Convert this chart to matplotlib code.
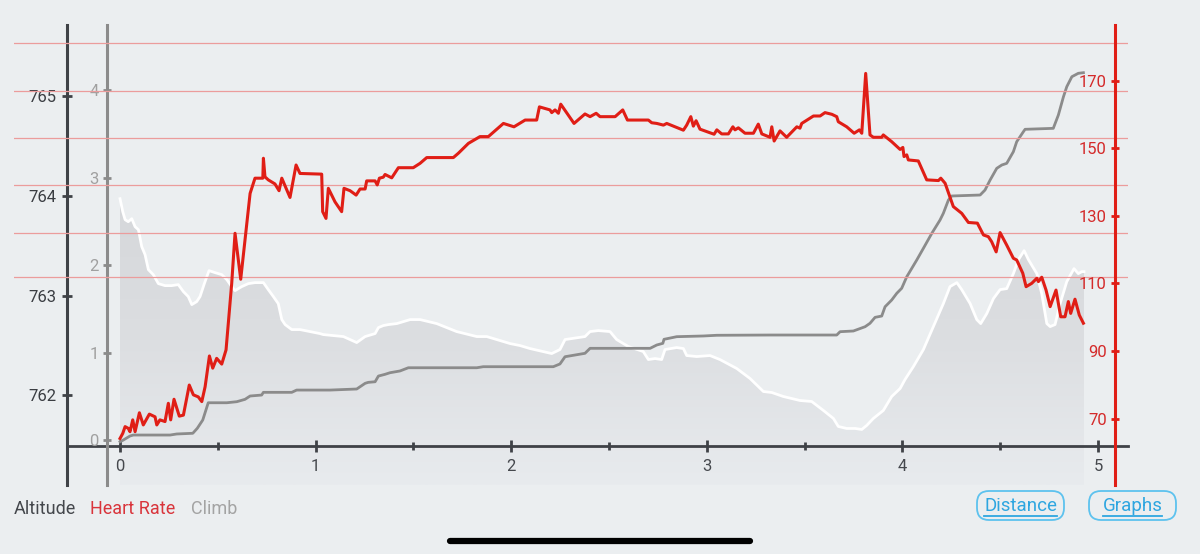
import matplotlib.pyplot as plt  # for plots
import numpy as np  # gradient for the altitude fill
from matplotlib.colors import LinearSegmentedColormap
from matplotlib.lines import Line2D
from matplotlib.patches import FancyBboxPatch
from matplotlib.transforms import IdentityTransform

plt.rcParams['font.family'] = ['Roboto', 'DejaVu Sans']

# altitude profile (distance km, metres)
alt_dist = [0.000, 0.014, 0.026, 0.042, 0.060, 0.077, 0.094, 0.111, 0.128, 0.145,
            0.170, 0.196, 0.230, 0.264, 0.298, 0.324, 0.349, 0.367, 0.392, 0.409,
            0.431, 0.455, 0.486, 0.520, 0.546, 0.571, 0.588, 0.622, 0.656, 0.690,
            0.733, 0.758, 0.784, 0.809, 0.827, 0.844, 0.878, 0.920, 0.971, 1.022,
            1.039, 1.142, 1.210, 1.253, 1.304, 1.321, 1.346, 1.372, 1.415, 1.483,
            1.534, 1.619, 1.721, 1.824, 1.875, 1.926, 1.994, 2.045, 2.096, 2.207,
            2.249, 2.275, 2.377, 2.403, 2.445, 2.505, 2.539, 2.599, 2.675, 2.701,
            2.735, 2.769, 2.786, 2.846, 2.880, 2.897, 2.948, 3.016, 3.067, 3.153,
            3.221, 3.289, 3.332, 3.391, 3.476, 3.536, 3.596, 3.647, 3.672, 3.715,
            3.758, 3.792, 3.817, 3.851, 3.902, 3.945, 3.988, 4.013, 4.056, 4.107,
            4.158, 4.209, 4.243, 4.278, 4.303, 4.346, 4.380, 4.400, 4.431, 4.465,
            4.499, 4.533, 4.567, 4.593, 4.622, 4.644, 4.687, 4.712, 4.738, 4.755,
            4.780, 4.806, 4.840, 4.877, 4.899, 4.917, 4.928]
alt_m = [763.97, 763.84, 763.76, 763.74, 763.77, 763.69, 763.66, 763.49, 763.41, 763.26,
         763.21, 763.12, 763.10, 763.10, 763.11, 763.04, 762.99, 762.91, 762.94, 762.99,
         763.12, 763.25, 763.23, 763.21, 763.16, 763.09, 763.05, 763.09, 763.12, 763.13,
         763.13, 763.06, 762.99, 762.92, 762.76, 762.71, 762.66, 762.66, 762.64, 762.62,
         762.61, 762.59, 762.53, 762.59, 762.62, 762.68, 762.70, 762.71, 762.72, 762.76,
         762.76, 762.72, 762.64, 762.59, 762.59, 762.56, 762.52, 762.50, 762.47, 762.42,
         762.46, 762.56, 762.59, 762.64, 762.65, 762.64, 762.56, 762.49, 762.44, 762.36,
         762.37, 762.36, 762.46, 762.48, 762.47, 762.40, 762.39, 762.40, 762.36, 762.27,
         762.17, 762.04, 762.03, 761.99, 761.95, 761.94, 761.85, 761.77, 761.69, 761.67,
         761.67, 761.66, 761.70, 761.77, 761.85, 761.99, 762.07, 762.16, 762.29, 762.46,
         762.69, 762.92, 763.09, 763.13, 763.06, 762.92, 762.76, 762.72, 762.82, 762.97,
         763.06, 763.07, 763.22, 763.36, 763.45, 763.36, 763.22, 763.02, 762.72, 762.69,
         762.71, 762.92, 763.14, 763.27, 763.22, 763.24, 763.24]

# cumulative climb (distance km, metres)
climb_dist = [0.000, 0.017, 0.051, 0.068, 0.256, 0.290, 0.372, 0.395, 0.423, 0.451,
              0.546, 0.597, 0.639, 0.665, 0.724, 0.733, 0.878, 0.903, 1.074, 1.210,
              1.253, 1.269, 1.304, 1.321, 1.355, 1.380, 1.431, 1.474, 1.824, 1.857,
              2.215, 2.249, 2.275, 2.377, 2.403, 2.710, 2.744, 2.775, 2.781, 2.846,
              2.982, 3.051, 3.323, 3.664, 3.681, 3.749, 3.809, 3.834, 3.860, 3.894,
              3.911, 3.945, 3.971, 3.996, 4.022, 4.073, 4.107, 4.150, 4.192, 4.209,
              4.235, 4.252, 4.397, 4.422, 4.448, 4.482, 4.508, 4.533, 4.567, 4.584,
              4.618, 4.627, 4.771, 4.797, 4.823, 4.840, 4.866, 4.899, 4.925]
climb_m = [-0.02, 0.00, 0.046, 0.057, 0.057, 0.069, 0.077, 0.134, 0.229, 0.426,
           0.426, 0.438, 0.465, 0.503, 0.514, 0.545, 0.545, 0.571, 0.571, 0.583,
           0.648, 0.659, 0.666, 0.731, 0.751, 0.769, 0.789, 0.826, 0.826, 0.838,
           0.838, 0.869, 0.952, 0.991, 1.048, 1.048, 1.086, 1.105, 1.151, 1.181,
           1.189, 1.197, 1.200, 1.200, 1.238, 1.246, 1.295, 1.334, 1.402, 1.417,
           1.523, 1.600, 1.677, 1.734, 1.866, 2.057, 2.191, 2.362, 2.514, 2.591,
           2.743, 2.789, 2.800, 2.857, 2.971, 3.105, 3.143, 3.162, 3.295, 3.409,
           3.523, 3.551, 3.562, 3.714, 3.923, 4.038, 4.152, 4.191, 4.198]

# heart rate (distance km, bpm)
hr_dist = [0.000, 0.014, 0.026, 0.042, 0.051, 0.065, 0.077, 0.099, 0.119, 0.150,
           0.179, 0.188, 0.204, 0.230, 0.247, 0.259, 0.276, 0.303, 0.324, 0.354,
           0.375, 0.400, 0.418, 0.435, 0.457, 0.474, 0.494, 0.520, 0.542, 0.554,
           0.571, 0.588, 0.617, 0.665, 0.690, 0.730, 0.733, 0.741, 0.758, 0.792,
           0.813, 0.827, 0.869, 0.900, 0.920, 1.031, 1.036, 1.053, 1.065, 1.099,
           1.133, 1.145, 1.176, 1.207, 1.227, 1.253, 1.261, 1.304, 1.315, 1.326,
           1.346, 1.355, 1.389, 1.423, 1.499, 1.534, 1.568, 1.704, 1.730, 1.781,
           1.840, 1.883, 1.960, 2.014, 2.071, 2.130, 2.144, 2.198, 2.207, 2.224,
           2.241, 2.253, 2.321, 2.377, 2.403, 2.434, 2.454, 2.531, 2.570, 2.594,
           2.701, 2.718, 2.744, 2.778, 2.795, 2.880, 2.897, 2.918, 2.931, 2.945,
           2.965, 3.037, 3.051, 3.076, 3.110, 3.133, 3.144, 3.161, 3.195, 3.238,
           3.263, 3.281, 3.323, 3.332, 3.344, 3.374, 3.408, 3.460, 3.476, 3.485,
           3.545, 3.579, 3.604, 3.639, 3.664, 3.672, 3.715, 3.753, 3.780, 3.792,
           3.812, 3.834, 3.851, 3.894, 3.902, 3.945, 3.988, 4.002, 4.008, 4.022,
           4.030, 4.081, 4.124, 4.184, 4.196, 4.218, 4.260, 4.303, 4.337, 4.383,
           4.414, 4.439, 4.456, 4.479, 4.499, 4.533, 4.567, 4.584, 4.615, 4.632,
           4.661, 4.687, 4.695, 4.712, 4.734, 4.755, 4.785, 4.809, 4.831, 4.848,
           4.860, 4.882, 4.904, 4.925]
hr_bpm = [64.1, 65.6, 67.6, 67.1, 66.1, 69.6, 66.1, 71.7, 68.1, 71.3,
          70.5, 68.1, 69.6, 69.1, 74.5, 69.6, 75.7, 70.7, 71.0, 79.9,
          77.0, 76.4, 75.0, 79.4, 88.5, 84.9, 87.8, 86.1, 90.3, 98.6,
          110.0, 124.8, 111.2, 136.6, 141.1, 141.1, 147.0, 141.5, 140.6, 139.4,
          137.4, 141.1, 135.4, 145.0, 142.5, 142.3, 131.2, 129.2, 138.1, 134.1,
          131.2, 138.1, 137.4, 136.1, 137.9, 137.9, 140.3, 140.3, 139.1, 141.1,
          141.4, 142.2, 141.2, 144.2, 144.2, 145.5, 147.2, 147.2, 148.5, 151.4,
          153.4, 153.4, 157.3, 156.3, 158.3, 158.3, 162.2, 161.3, 160.5, 161.3,
          160.3, 163.0, 157.3, 160.1, 159.3, 160.3, 159.3, 159.3, 161.3, 158.3,
          158.3, 157.5, 157.3, 156.8, 157.3, 155.3, 156.8, 159.3, 156.5, 158.1,
          155.6, 154.1, 155.4, 154.2, 154.2, 156.3, 155.4, 156.0, 154.4, 154.4,
          157.1, 154.2, 153.2, 156.3, 152.1, 155.1, 153.2, 156.3, 155.9, 157.3,
          159.5, 159.5, 160.5, 160.0, 159.3, 157.8, 156.3, 154.4, 155.4, 154.4,
          172.1, 153.9, 153.2, 153.2, 153.9, 151.9, 149.6, 150.2, 147.5, 148.0,
          146.5, 146.2, 140.6, 140.4, 141.1, 139.6, 132.7, 130.7, 128.0, 127.8,
          124.3, 123.8, 122.3, 119.3, 125.0, 121.3, 117.4, 116.9, 113.0, 109.0,
          110.0, 111.5, 110.5, 111.8, 108.0, 103.1, 108.0, 100.1, 100.1, 104.6,
          101.1, 105.3, 100.6, 98.2]

dist_ticks = [0, 1, 2, 3, 4, 5]
alt_ticks = [762, 763, 764, 765]
climb_ticks = [0, 1, 2, 3, 4]
hr_ticks = [70, 90, 110, 130, 150, 170]
hr_grid = [112, 125, 139, 153, 167, 181]
legend_labels = ['Altitude', 'Heart Rate', 'Climb']
button_labels = ['Distance', 'Graphs']

bg = '#ebeef0'
dark = '#3f4247'
grey = '#8b8b8b'
red = '#e01e16'

fig = plt.figure(figsize=(12, 5.54), dpi=100)
fig.patch.set_facecolor(bg)
rect = [14 / 1200, 69 / 554, 1114 / 1200, 460 / 554]

# altitude axis (outer dark)
ax = fig.add_axes(rect)
ax.set_facecolor(bg)
alt_lo, alt_hi = 761.104, 765.709

poly = ax.fill_between(alt_dist, alt_m, alt_lo, color='none', lw=0)
grad = np.linspace(0, 1, 256).reshape(-1, 1)
cmap = LinearSegmentedColormap.from_list('fill', ['#e8ebee', '#dcdee1', '#d5d7da'])
im = ax.imshow(grad, extent=[alt_dist[0], alt_dist[-1], alt_lo, 764.0], origin='lower',
               cmap=cmap, aspect='auto', zorder=1, interpolation='bilinear')
im.set_clip_path(poly.get_paths()[0], transform=ax.transData)
ax.plot(alt_dist, alt_m, color='white', lw=2.0, zorder=3, solid_joinstyle='round')

ax.set_xlim(-0.542, 5.153)
ax.set_ylim(alt_lo, alt_hi)
for s in ['top', 'right']:
    ax.spines[s].set_visible(False)
ax.spines['left'].set_position(('axes', 0.0476))
ax.spines['left'].set_color(dark)
ax.spines['left'].set_linewidth(2.2)
ax.spines['bottom'].set_position(('data', 761.494))
ax.spines['bottom'].set_bounds(-0.271, 5.153)
ax.spines['bottom'].set_color(dark)
ax.spines['bottom'].set_linewidth(2.0)
ax.set_xticks(dist_ticks)
ax.set_xticks([0.5, 1.5, 2.5, 3.5, 4.5], minor=True)
ax.tick_params(axis='x', which='major', direction='inout', length=9, width=2,
               color=dark, labelcolor='#45484d', labelsize=12, pad=5)
ax.tick_params(axis='x', which='minor', direction='inout', length=6, width=2, color=dark)
ax.set_yticks(alt_ticks)
ax.tick_params(axis='y', direction='inout', length=7, width=2, color=dark,
               labelcolor='#3a3d42', labelsize=12, pad=4)

# climb axis (inner grey)
ax2 = ax.twinx()
ax2.set_ylim(-0.514, 4.743)
ax2.plot(climb_dist, climb_m, color=grey, lw=2.0, solid_joinstyle='round')
for s in ['top', 'right', 'bottom']:
    ax2.spines[s].set_visible(False)
ax2.spines['left'].set_visible(True)
ax2.spines['left'].set_position(('axes', 0.0835))
ax2.spines['left'].set_color(grey)
ax2.spines['left'].set_linewidth(2.2)
ax2.yaxis.set_ticks_position('left')
ax2.set_yticks(climb_ticks)
ax2.tick_params(axis='y', direction='inout', length=6, width=2, color=grey,
                labelcolor='#a0a0a0', labelsize=12, pad=3)

# heart rate axis (right red, labels inside)
ax3 = ax.twinx()
ax3.set_ylim(50.33, 186.42)
for v in hr_grid:
    ax3.axhline(v, color='#eb9c9c', lw=0.9, zorder=0)
ax3.plot(hr_dist, hr_bpm, color=red, lw=2.2, solid_joinstyle='round', zorder=5)
for s in ['top', 'right', 'bottom']:
    ax3.spines[s].set_visible(False)
ax3.spines['left'].set_visible(True)
ax3.spines['left'].set_position(('axes', 0.9883))
ax3.spines['left'].set_color(red)
ax3.spines['left'].set_linewidth(2.2)
ax3.yaxis.set_ticks_position('left')
ax3.set_yticks(hr_ticks)
ax3.tick_params(axis='y', direction='inout', length=6, width=2, color=red,
                labelcolor='#d42a2a', labelsize=12, pad=3)

# series names under the chart
legend_colors = ['#44474c', '#d9343b', '#a3a3a3']
legend_x = [14, 90, 191]
for lab, col, px in zip(legend_labels, legend_colors, legend_x):
    fig.text(px / 1200, 1 - 509 / 554, lab, color=col, fontsize=13, va='center', ha='left')

# buttons bottom right
btn_color = '#5dc2ee'
btn_text = '#2ea6e0'
btn_boxes = [(977, 1064), (1089, 1176)]
texts = []
for lab, (x0, x1) in zip(button_labels, btn_boxes):
    box = FancyBboxPatch((x0 / 100, (554 - 520) / 100), (x1 - x0) / 100, 0.29,
                         boxstyle='round,pad=0,rounding_size=0.12',
                         transform=fig.dpi_scale_trans, fc='none', ec=btn_color, lw=1.3)
    fig.add_artist(box)
    t = fig.text((x0 + x1) / 2 / 1200, 1 - 506 / 554, lab, color=btn_text, fontsize=13.5,
                 ha='center', va='center')
    texts.append(t)

fig.canvas.draw()
for t in texts:
    bb = t.get_window_extent()
    fig.add_artist(Line2D([bb.x0, bb.x1], [554 - 516, 554 - 516], color=btn_text, lw=1.3,
                          transform=IdentityTransform()))

# home indicator bar
fig.add_artist(Line2D([450, 750], [13, 13], color='black', lw=4.5, solid_capstyle='round',
                      transform=IdentityTransform()))

fig.savefig('out.png', dpi=100, facecolor=bg)
